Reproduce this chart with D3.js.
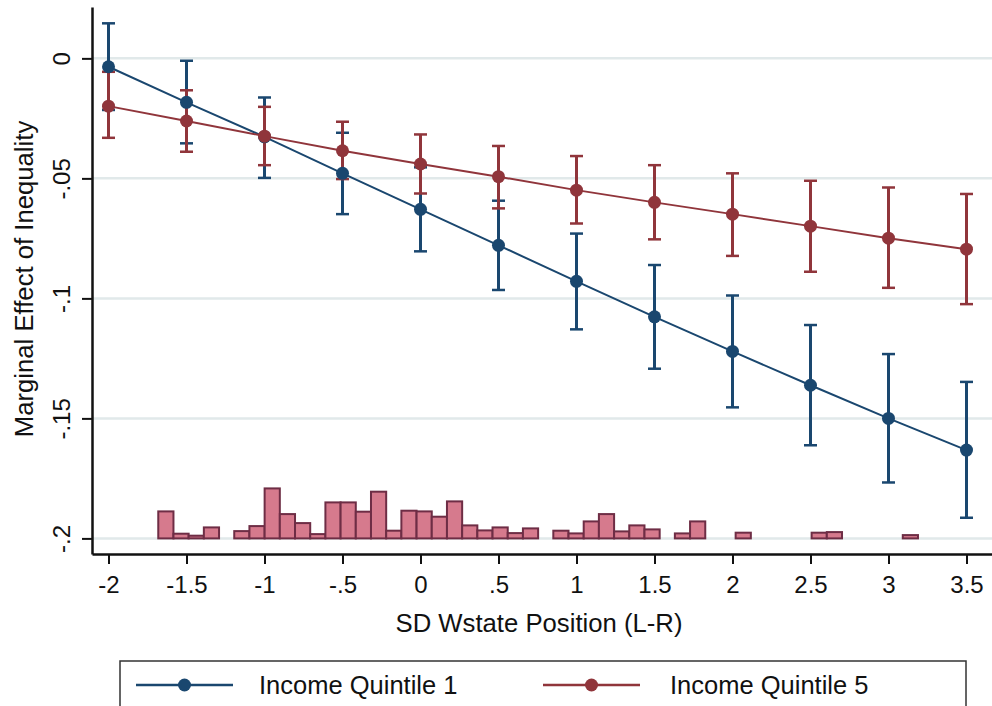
<html>
<head>
<script src="https://d3js.org/d3.v7.min.js"></script>
<style>
	body { margin: 0; background: #fff; }
	text { font-family: "Liberation Sans", Arial, sans-serif; fill: #111; }
</style>
</head>
<body>
<div id="chart"></div>
<script>
// x positions of the margins
var xValues = [-2, -1.5, -1, -0.5, 0, 0.5, 1, 1.5, 2, 2.5, 3, 3.5]

// Income Quintile 1
var q1Est = [-0.0035, -0.0183, -0.0327, -0.0479, -0.0629, -0.0779, -0.0929, -0.1077, -0.1221, -0.1362, -0.1500, -0.1632]
var q1Hi  = [ 0.0146, -0.0010, -0.0163, -0.0310, -0.0454, -0.0593, -0.0730, -0.0861, -0.0988, -0.1111, -0.1232, -0.1348]
var q1Lo  = [-0.0215, -0.0354, -0.0498, -0.0649, -0.0804, -0.0965, -0.1129, -0.1293, -0.1454, -0.1612, -0.1767, -0.1914]

// Income Quintile 5
var q5Est = [-0.0199, -0.0261, -0.0324, -0.0385, -0.0440, -0.0493, -0.0549, -0.0600, -0.0649, -0.0699, -0.0749, -0.0795]
var q5Hi  = [-0.0056, -0.0133, -0.0202, -0.0264, -0.0317, -0.0365, -0.0407, -0.0445, -0.0479, -0.0510, -0.0538, -0.0565]
var q5Lo  = [-0.0331, -0.0389, -0.0445, -0.0503, -0.0563, -0.0625, -0.0688, -0.0754, -0.0823, -0.0889, -0.0956, -0.1024]

// histogram of SD Wstate Position, heights in y units above the -.2 baseline
var histStart = -1.681
var histWidth = 0.0974
var histBase = -0.2
var histHeights = [0.01125, 0.00196, 0.00113, 0.00458, 0, 0.00304, 0.00513, 0.02083, 0.01013, 0.00638,
	0.00179, 0.01500, 0.01500, 0.01113, 0.01946, 0.00321, 0.01154, 0.01125, 0.00904, 0.01542,
	0.00542, 0.00333, 0.00458, 0.00221, 0.00417, 0, 0.00321, 0.00208, 0.00708, 0.01013,
	0.00292, 0.00542, 0.00375, 0, 0.00208, 0.00708, 0, 0, 0.00238, 0,
	0, 0, 0, 0.00238, 0.00263, 0, 0, 0, 0, 0.00138]

var xTicks = [-2, -1.5, -1, -0.5, 0, 0.5, 1, 1.5, 2, 2.5, 3, 3.5]
var xTickLabels = ["-2", "-1.5", "-1", "-.5", "0", ".5", "1", "1.5", "2", "2.5", "3", "3.5"]
var yTicks = [0, -0.05, -0.1, -0.15, -0.2]
var yTickLabels = ["0", "-.05", "-.1", "-.15", "-.2"]

var seriesNames = ["Income Quintile 1", "Income Quintile 5"]
var seriesColors = ["#1a476f", "#90353b"]

var width = 992
var height = 706

var x = d3.scaleLinear().domain([-2.1058, 3.6635]).range([92, 992])
var y = d3.scaleLinear().domain([-0.2065, 0.0214]).range([554, 7])

var svg = d3.select("#chart")
	.append("svg")
	.attr("width", width)
	.attr("height", height)

// gridlines
svg.append("g")
	.selectAll("line")
	.data(yTicks)
	.enter()
	.append("line")
	.attr("x1", 92)
	.attr("x2", 992)
	.attr("y1", function(d){ return y(d) })
	.attr("y2", function(d){ return y(d) })
	.style("stroke", "#e1e9ea")
	.style("stroke-width", 2.5)

// histogram
svg.append("g")
	.selectAll("rect")
	.data(histHeights.map(function(h, i){ return { x0: histStart + i * histWidth, h: h } }).filter(function(d){ return d.h > 0 }))
	.enter()
	.append("rect")
	.attr("x", function(d){ return x(d.x0) })
	.attr("width", function(d){ return x(d.x0 + histWidth) - x(d.x0) })
	.attr("y", function(d){ return y(histBase + d.h) })
	.attr("height", function(d){ return y(histBase) - y(histBase + d.h) })
	.style("fill", "#d67a8d")
	.style("stroke", "#6e2d45")
	.style("stroke-width", 2)

var series = [
	{ est: q1Est, lo: q1Lo, hi: q1Hi, color: seriesColors[0] },
	{ est: q5Est, lo: q5Lo, hi: q5Hi, color: seriesColors[1] }
]

// confidence intervals (rcap)
series.forEach(function(s){
	var g = svg.append("g")
	xValues.forEach(function(xv, i){
		g.append("line")
			.attr("x1", x(xv)).attr("x2", x(xv))
			.attr("y1", y(s.hi[i])).attr("y2", y(s.lo[i]))
			.style("stroke", s.color).style("stroke-width", 3)
		;[s.hi[i], s.lo[i]].forEach(function(v){
			g.append("line")
				.attr("x1", x(xv) - 6.5).attr("x2", x(xv) + 6.5)
				.attr("y1", y(v)).attr("y2", y(v))
				.style("stroke", s.color).style("stroke-width", 2.5)
		})
	})
})

// connected lines with markers
var line = d3.line()
	.x(function(d){ return x(d[0]) })
	.y(function(d){ return y(d[1]) })

series.forEach(function(s){
	var pts = xValues.map(function(xv, i){ return [xv, s.est[i]] })
	svg.append("path")
		.attr("d", line(pts))
		.style("fill", "none")
		.style("stroke", s.color)
		.style("stroke-width", 2)
	svg.append("g")
		.selectAll("circle")
		.data(pts)
		.enter()
		.append("circle")
		.attr("cx", function(d){ return x(d[0]) })
		.attr("cy", function(d){ return y(d[1]) })
		.attr("r", 6.5)
		.style("fill", s.color)
})

// axes
var xAxis = d3.axisBottom(x)
	.tickValues(xTicks)
	.tickFormat(function(d, i){ return xTickLabels[i] })
	.tickSize(10)
	.tickSizeOuter(0)
	.tickPadding(12)

var yAxis = d3.axisLeft(y)
	.tickValues(yTicks)
	.tickFormat(function(d, i){ return yTickLabels[i] })
	.tickSize(10)
	.tickSizeOuter(0)

var gx = svg.append("g")
	.attr("transform", "translate(0,554)")
	.call(xAxis)
gx.selectAll("text")
	.style("font-size", "24px")
	.style("fill", "#111")

var gy = svg.append("g")
	.attr("transform", "translate(92,0)")
	.call(yAxis)
gy.selectAll("text")
	.attr("transform", "rotate(-90)")
	.attr("x", 0)
	.attr("y", -22)
	.attr("dy", 0)
	.style("text-anchor", "middle")
	.style("font-size", "24px")
	.style("fill", "#111")

svg.selectAll(".domain").style("stroke", "#111").style("stroke-width", 2.5)
svg.selectAll(".tick line").style("stroke", "#111").style("stroke-width", 2)

// axis titles
svg.append("text")
	.attr("x", 539)
	.attr("y", 632)
	.style("text-anchor", "middle")
	.style("font-size", "25.7px")
	.text("SD Wstate Position (L-R)")

svg.append("text")
	.attr("transform", "translate(33,279) rotate(-90)")
	.style("text-anchor", "middle")
	.style("font-size", "25.7px")
	.text("Marginal Effect of Inequality")

// legend
var legend = svg.append("g")
legend.append("rect")
	.attr("x", 120)
	.attr("y", 661)
	.attr("width", 846)
	.attr("height", 70)
	.style("fill", "#fff")
	.style("stroke", "#333")
	.style("stroke-width", 1.5)

var legendX = [136, 543]
seriesNames.forEach(function(name, i){
	var lg = legend.append("g").attr("transform", "translate(" + legendX[i] + ",685)")
	lg.append("line")
		.attr("x1", 0).attr("x2", 97)
		.attr("y1", 0).attr("y2", 0)
		.style("stroke", seriesColors[i])
		.style("stroke-width", 2.5)
	lg.append("circle")
		.attr("cx", 48.5).attr("cy", 0).attr("r", 6.5)
		.style("fill", seriesColors[i])
	lg.append("text")
		.attr("x", 123 + (i == 1 ? 4 : 0))
		.attr("y", 8.5)
		.style("font-size", "25.5px")
		.text(name)
})
</script>
</body>
</html>
